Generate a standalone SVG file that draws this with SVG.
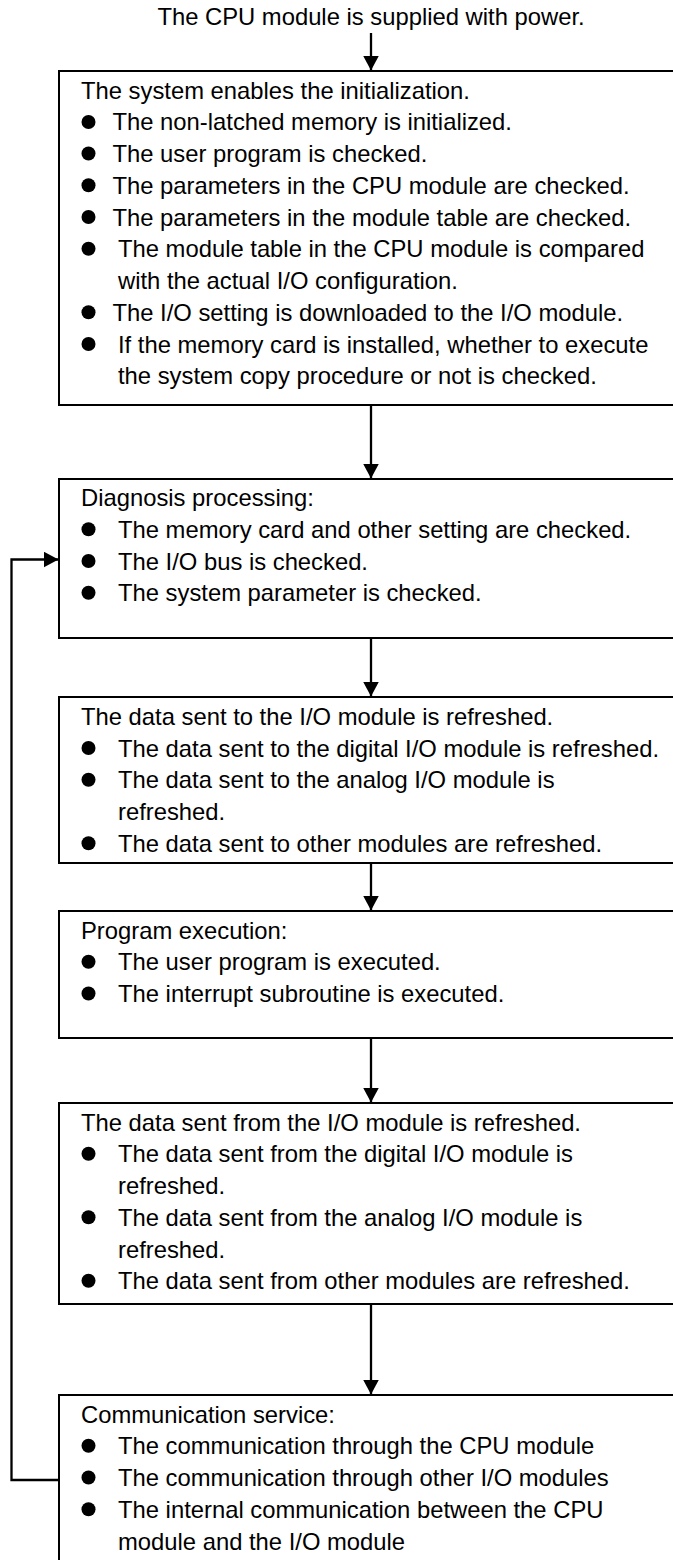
<svg xmlns="http://www.w3.org/2000/svg" width="673" height="1560" viewBox="0 0 673 1560">
<style>
text{font-family:"Liberation Sans",Arial,sans-serif;font-size:23.8px;fill:#000}
.box{fill:#fff;stroke:#000;stroke-width:2}
.con{fill:none;stroke:#000;stroke-width:2.3}
.b{fill:#000}
</style>
<defs>
<marker id="ah" markerUnits="userSpaceOnUse" markerWidth="15" markerHeight="16" refX="15" refY="8" orient="auto">
<path d="M0,0 L15,8 L0,16 z" fill="#000"/>
</marker>
</defs>
<rect width="673" height="1560" fill="#fff"/>
<g id="start"><text x="371" y="25" text-anchor="middle">The CPU module is supplied with power.</text></g>
<g id="connectors">
<line class="con" x1="371" y1="33" x2="371" y2="70.5" marker-end="url(#ah)"/>
<line class="con" x1="371" y1="405" x2="371" y2="478.5" marker-end="url(#ah)"/>
<line class="con" x1="371" y1="638" x2="371" y2="696.5" marker-end="url(#ah)"/>
<line class="con" x1="371" y1="863" x2="371" y2="910.5" marker-end="url(#ah)"/>
<line class="con" x1="371" y1="1038" x2="371" y2="1102.5" marker-end="url(#ah)"/>
<line class="con" x1="371" y1="1304" x2="371" y2="1394.5" marker-end="url(#ah)"/>
<polyline class="con" points="59,1480 11.5,1480 11.5,559.5 58.5,559.5" marker-end="url(#ah)"/>
</g>
<g id="init">
<rect class="box" x="59" y="71" width="620" height="334"/>
<text x="81" y="98.5">The system enables the initialization.</text>
<circle class="b" cx="88.5" cy="122" r="7"/><text x="112.5" y="130.25">The non-latched memory is initialized.</text>
<circle class="b" cx="88.5" cy="153.5" r="7"/><text x="112.5" y="162">The user program is checked.</text>
<circle class="b" cx="88.5" cy="185.25" r="7"/><text x="112.5" y="193.75">The parameters in the CPU module are checked.</text>
<circle class="b" cx="88.5" cy="217" r="7"/><text x="112.5" y="225.5">The parameters in the module table are checked.</text>
<circle class="b" cx="88.5" cy="248.75" r="7"/><text x="118" y="257.25">The module table in the CPU module is compared</text>
<text x="118" y="289">with the actual I/O configuration.</text>
<circle class="b" cx="88.5" cy="312.25" r="7"/><text x="112.5" y="320.75">The I/O setting is downloaded to the I/O module.</text>
<circle class="b" cx="88.5" cy="344" r="7"/><text x="118" y="352.5">If the memory card is installed, whether to execute</text>
<text x="118" y="384.25">the system copy procedure or not is checked.</text>
</g>
<g id="diagnosis">
<rect class="box" x="59" y="479" width="620" height="159"/>
<text x="81" y="506">Diagnosis processing:</text>
<circle class="b" cx="88.5" cy="529.25" r="7"/><text x="118" y="537.75">The memory card and other setting are checked.</text>
<circle class="b" cx="88.5" cy="561" r="7"/><text x="118" y="569.5">The I/O bus is checked.</text>
<circle class="b" cx="88.5" cy="592.75" r="7"/><text x="118" y="601.25">The system parameter is checked.</text>
</g>
<g id="refresh-out">
<rect class="box" x="59" y="697" width="620" height="166"/>
<text x="81" y="724.75">The data sent to the I/O module is refreshed.</text>
<circle class="b" cx="88.5" cy="748" r="7"/><text x="118" y="756.5">The data sent to the digital I/O module is refreshed.</text>
<circle class="b" cx="88.5" cy="779.75" r="7"/><text x="118" y="788.25">The data sent to the analog I/O module is</text>
<text x="118" y="820">refreshed.</text>
<circle class="b" cx="88.5" cy="843.25" r="7"/><text x="118" y="851.75">The data sent to other modules are refreshed.</text>
</g>
<g id="program">
<rect class="box" x="59" y="911" width="620" height="127"/>
<text x="81" y="938.5">Program execution:</text>
<circle class="b" cx="88.5" cy="961.75" r="7"/><text x="118" y="970.25">The user program is executed.</text>
<circle class="b" cx="88.5" cy="993.5" r="7"/><text x="118" y="1002">The interrupt subroutine is executed.</text>
</g>
<g id="refresh-in">
<rect class="box" x="59" y="1103" width="620" height="201"/>
<text x="81" y="1130.5">The data sent from the I/O module is refreshed.</text>
<circle class="b" cx="88.5" cy="1153.75" r="7"/><text x="118" y="1162.25">The data sent from the digital I/O module is</text>
<text x="118" y="1194">refreshed.</text>
<circle class="b" cx="88.5" cy="1217.25" r="7"/><text x="118" y="1225.75">The data sent from the analog I/O module is</text>
<text x="118" y="1257.5">refreshed.</text>
<circle class="b" cx="88.5" cy="1280.75" r="7"/><text x="118" y="1289.25">The data sent from other modules are refreshed.</text>
</g>
<g id="communication">
<rect class="box" x="59" y="1395" width="620" height="175"/>
<text x="81" y="1422.5">Communication service:</text>
<circle class="b" cx="88.5" cy="1445.75" r="7"/><text x="118" y="1454.25">The communication through the CPU module</text>
<circle class="b" cx="88.5" cy="1477.5" r="7"/><text x="118" y="1486">The communication through other I/O modules</text>
<circle class="b" cx="88.5" cy="1509.25" r="7"/><text x="118" y="1517.75">The internal communication between the CPU</text>
<text x="118" y="1549.5">module and the I/O module</text>
</g>
</svg>
